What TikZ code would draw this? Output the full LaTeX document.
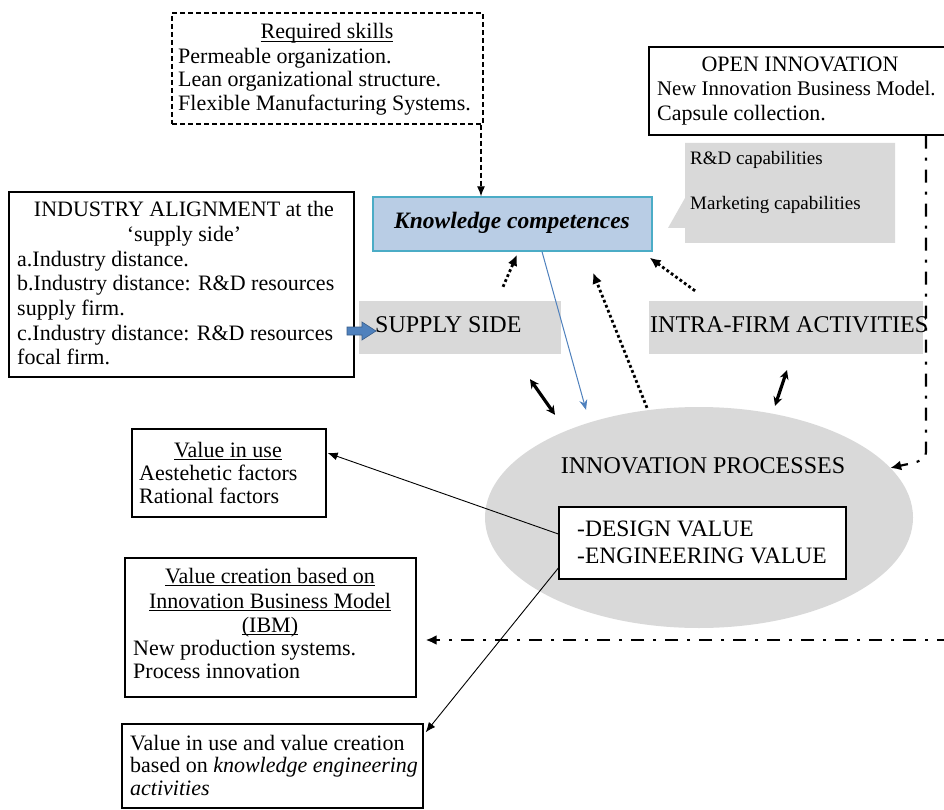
\documentclass[tikz,border=0pt]{standalone}
\usepackage{fontspec}
\setmainfont{Liberation Serif}
\usetikzlibrary{arrows.meta,calc,shapes.geometric}
\definecolor{gfill}{RGB}{217,217,217}
\definecolor{kcfill}{RGB}{185,205,229}
\definecolor{kcdraw}{RGB}{75,172,198}
\definecolor{blu}{RGB}{79,129,189}
\definecolor{bludark}{RGB}{56,93,138}
\newcommand{\myuline}[1]{\setbox0\hbox{#1}\rlap{\rule[-3pt]{\wd0}{0.9pt}}\box0}
\begin{document}
\begin{tikzpicture}[x=1pt,y=-1pt,
  box/.style={rectangle, draw=black, line width=1.3pt, fill=white, inner sep=0},
  dbox/.style={rectangle, draw=black, line width=1.2pt, dash pattern=on 5pt off 3pt, fill=white, inner sep=0},
  gbox/.style={rectangle, fill=gfill, inner sep=0},
  kcbox/.style={rectangle, fill=kcfill, draw=kcdraw, line width=1.3pt, inner sep=0},
  ellnode/.style={ellipse, fill=gfill, inner sep=0},
  txt/.style={inner sep=0, font=\fontsize{22}{24}\selectfont},
  lbl/.style={inner sep=0, font=\fontsize{24}{26}\selectfont},
  dvt/.style={inner sep=0, font=\fontsize{23.5}{26}\selectfont},
  smalltxt/.style={inner sep=0, font=\fontsize{19}{22}\selectfont},
  thinarr/.style={line width=0.9pt, -{Latex[length=10pt,width=8pt]}},
  dotarr/.style={line width=2.8pt, dash pattern=on 2.8pt off 2.6pt, -{Latex[length=11pt,width=10pt]}},
  dbl/.style={line width=3.2pt, {Stealth[length=9pt,width=9pt]}-{Stealth[length=9pt,width=9pt]}},
  dashdot/.style={line width=2.2pt, dash pattern=on 13pt off 9pt on 3pt off 9pt, -{Latex[length=11pt,width=10pt]}},
  bluearr/.style={draw=blu, line width=1pt, -{Stealth[length=10pt,width=8pt]}},
  rsarr/.style={line width=1.2pt, dash pattern=on 5pt off 3pt, -{Latex[length=10pt,width=8pt]}}
]
\useasboundingbox (0,0) rectangle (944,810);
\fill[white] (0,0) rectangle (944,810);

% boxes
\node[dbox, minimum width=311pt, minimum height=111pt] (rs) at (327.5,68.5) {};
\node[box, minimum width=345pt, minimum height=185pt] (ia) at (181.5,284.5) {};
\node[box, minimum width=301pt, minimum height=88pt] (oi) at (799.5,91) {};
\node[gbox, minimum width=202pt, minimum height=53pt] (ss) at (460,327.5) {};
\node[gbox, minimum width=274pt, minimum height=53pt] (ifa) at (786,327.5) {};
\node[kcbox, minimum width=279pt, minimum height=54pt] (kc) at (512.5,224) {};
\fill[gfill] (685,143) -- (895,143) -- (895,243) -- (685,243) -- (685,228) -- (668,228) -- (685,198) -- cycle;
\node[ellnode, minimum width=428pt, minimum height=221pt] (ip) at (699,517.5) {};
\node[box, minimum width=287pt, minimum height=72pt] (dv) at (702.5,543) {};
\node[box, minimum width=194pt, minimum height=88pt] (vu) at (229,473) {};
\node[box, minimum width=291pt, minimum height=139pt] (vc) at (270.5,627.5) {};
\node[box, minimum width=301pt, minimum height=84pt] (vk) at (272.5,766) {};

% texts
\node[txt, anchor=base] (rs1) at (327,39) {\myuline{Required skills}};
\node[txt, anchor=base west] (rs2) at (178,64) {Permeable organization.};
\node[txt, anchor=base west] (rs3) at (178,87) {Lean organizational structure.};
\node[txt, anchor=base west] (rs4) at (178,111) {Flexible Manufacturing Systems.};

\node[txt, anchor=base] (ia1) at (184,217) {INDUSTRY ALIGNMENT at the};
\node[txt, anchor=base] (ia2) at (184,242) {‘supply side’};
\node[txt, anchor=base west] (ia3) at (17,266) {a.Industry distance.};
\node[txt, anchor=base west] (ia4) at (17,290) {b.Industry distance: R\&D resources};
\node[txt, anchor=base west] (ia5) at (17,315) {supply firm.};
\node[txt, anchor=base west] (ia6) at (17,340) {c.Industry distance: R\&D resources};
\node[txt, anchor=base west] (ia7) at (17,364) {focal firm.};

\node[txt, anchor=base] (oi1) at (800,72) {OPEN INNOVATION};
\node[inner sep=0, font=\fontsize{20.8}{24}\selectfont, anchor=base west] (oi2) at (657,96) {New Innovation Business Model.};
\node[txt, anchor=base west] (oi3) at (657,121) {Capsule collection.};

\node[smalltxt, anchor=base west] (ca1) at (690,165) {R\&D capabilities};
\node[smalltxt, anchor=base west] (ca2) at (690,210) {Marketing capabilities};

\node[inner sep=0, font=\fontsize{23.5}{26}\selectfont\bfseries\itshape, anchor=base] (kct) at (512,229) {Knowledge competences};

\node[lbl, anchor=base west] (sst) at (375,332) {SUPPLY SIDE};
\node[lbl, anchor=base west] (ift) at (650,332) {INTRA-FIRM ACTIVITIES};

\node[lbl, anchor=base] (ipt) at (703,473) {INNOVATION PROCESSES};
\node[dvt, anchor=base west] (dv1) at (577,536) {-DESIGN VALUE};
\node[dvt, anchor=base west] (dv2) at (577,563) {-ENGINEERING VALUE};

\node[txt, anchor=base] (vu1) at (228,457) {\myuline{Value in use}};
\node[txt, anchor=base west] (vu2) at (139,480) {Aestehetic factors};
\node[txt, anchor=base west] (vu3) at (139,503) {Rational factors};

\node[txt, anchor=base] (vc1) at (270,583) {\myuline{Value creation based on}};
\node[txt, anchor=base] (vc2) at (270,608) {\myuline{Innovation Business Model}};
\node[txt, anchor=base] (vc3) at (270,632) {\myuline{(IBM)}};
\node[txt, anchor=base west] (vc4) at (133,655) {New production systems.};
\node[txt, anchor=base west] (vc5) at (133,678) {Process innovation};

\node[txt, anchor=base west] (vk1) at (130,750) {Value in use and value creation};
\node[txt, anchor=base west] (vk2) at (130,772) {based on \textit{knowledge engineering}};
\node[txt, anchor=base west] (vk3) at (130,795) {\textit{activities}};

% connectors
\draw[rsarr] ($(rs.south)+(153.5,0)$) -- ($(kc.north)+(-31.5,0)$);
\fill[blu, draw=bludark, line width=0.6pt] (347,327) -- (362,327) -- (362,322) -- (376,331) -- (362,340) -- (362,335) -- (347,335) -- cycle;
\draw[dotarr] ($(ss.north)+(43,-14)$) -- ($(kc.south)+(4.5,3)$);
\draw[dotarr] ($(ip.north)+(-52,1)$) -- ($(kc.south)+(80.5,21)$);
\draw[dotarr] ($(ifa.north)+(-91,-10)$) -- ($(kc.south east)+(-3,6)$);
\draw[bluearr] ($(kc.south)+(29.5,0)$) -- ($(ip.north)+(-113,3)$);
\draw[dbl] ($(ss.south)+(70,25)$) -- ($(ip.north)+(-144,8)$);
\draw[dbl] ($(ifa.south)+(1,16)$) -- ($(ip.north)+(76,-1)$);
\draw[thinarr] ($(dv.west)+(0,-9)$) -- ($(vu.east)+(1,-20)$);
\draw[thinarr] ($(dv.west)+(0,25)$) -- ($(vk.north east)+(2,9)$);
\draw[dashdot] ($(oi.south)+(126.5,0)$) -- (926,452) .. controls (926,462) and (912,463) .. ($(ip.east)+(-23,-49.5)$);
\coordinate (redge) at (950,640);
\draw[dashdot] (redge) -- ($(vc.east)+(9,12.5)$);
\end{tikzpicture}
\end{document}
